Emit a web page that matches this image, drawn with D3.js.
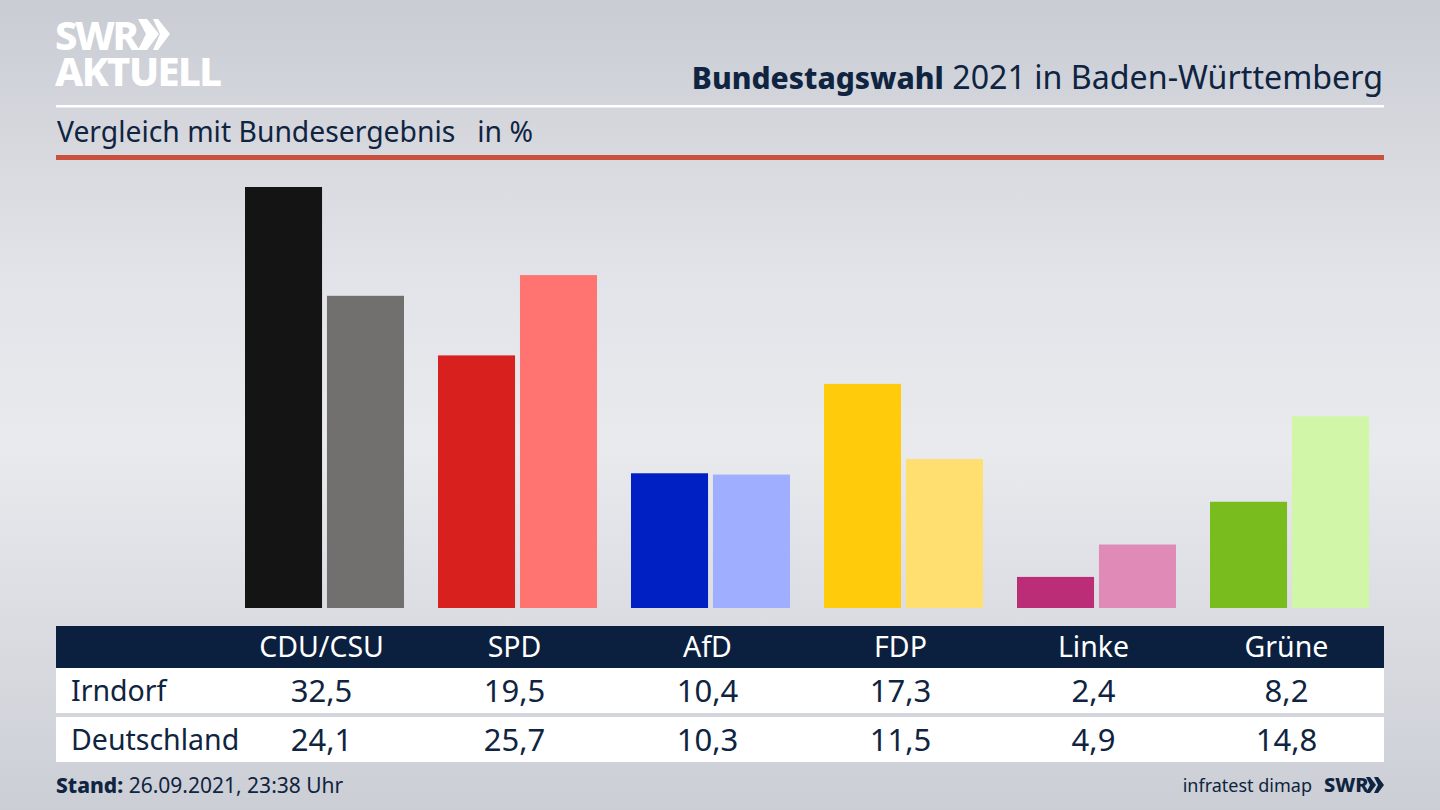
<!DOCTYPE html>
<html>
<head>
<meta charset="utf-8">
<script src="https://cdn.jsdelivr.net/npm/d3@7"></script>
<style>
html, body { margin: 0; padding: 0; background: #d8dae0; }
svg { display: block; }
text { font-family: "Noto Sans", "Open Sans", sans-serif; }
</style>
</head>
<body>
<div id="chart"></div>
<script>
// data
const parties = ["CDU/CSU", "SPD", "AfD", "FDP", "Linke", "Grüne"];
const regions = ["Irndorf", "Deutschland"];
const irndorf = [32.5, 19.5, 10.4, 17.3, 2.4, 8.2];
const deutschland = [24.1, 25.7, 10.3, 11.5, 4.9, 14.8];
const colorsIrndorf = ["#141414", "#d8201e", "#0020c4", "#ffcb0a", "#bc2d78", "#78bc1e"];
const colorsDeutschland = ["#72706e", "#ff7470", "#a0aeff", "#ffdf70", "#e08ab8", "#d2f6a8"];

const w = 1440, h = 810;
const navy = "#0b1f3f";
const ink = "#0f2440";

const svg = d3.select("#chart").append("svg").attr("width", w).attr("height", h);

// background
const grad = svg.append("defs").append("linearGradient")
	.attr("id", "bg").attr("x1", 0).attr("x2", 0).attr("y1", 0).attr("y2", 1);
grad.append("stop").attr("offset", "0%").attr("stop-color", "#c9ccd3");
grad.append("stop").attr("offset", "35%").attr("stop-color", "#e3e4e9");
grad.append("stop").attr("offset", "55%").attr("stop-color", "#e9eaee");
grad.append("stop").attr("offset", "100%").attr("stop-color", "#cbced5");
svg.append("rect").attr("width", w).attr("height", h).attr("fill", "url(#bg)");

// logo, one text element with two lines because the lines sit very tight
const logo = svg.append("g").attr("fill", "#fff");
const logoText = logo.append("text").attr("font-weight", 800);
logoText.append("tspan").attr("x", 55).attr("y", 50).attr("font-size", 40)
	.attr("letter-spacing", -2.5).text("SWR");
logoText.append("tspan").attr("x", 55).attr("y", 86).attr("font-size", 40)
	.attr("letter-spacing", -1.6).text("AKTUELL");
logo.append("path").attr("d", "M138 19h9l12 15-12 16h-9l8-16zM153 19h5l12 15-12 16h-5l7-16z");

// header
svg.append("text").attr("x", 1383).attr("y", 89).attr("text-anchor", "end")
	.attr("fill", ink)
	.call(t => {
		t.append("tspan").attr("font-size", 30).attr("font-weight", 800).text("Bundestagswahl");
		t.append("tspan").attr("font-size", 32.2).text(" 2021 in Baden-Württemberg");
	});
svg.append("rect").attr("x", 56).attr("y", 105).attr("width", 1328).attr("height", 2.5).attr("fill", "#fff");
svg.append("text").attr("x", 57).attr("y", 142).attr("font-size", 28.3).attr("fill", ink)
	.attr("xml:space", "preserve").text("Vergleich mit Bundesergebnis   in %");
svg.append("rect").attr("x", 56).attr("y", 155).attr("width", 1328).attr("height", 5).attr("fill", "#c9503c");

// scales
const x0 = d3.scaleBand().domain(parties).range([228.5, 1386.5]);
const x1 = d3.scaleBand().domain(regions).range([16.5, 175.5]).paddingInner(0.06);
const y = d3.scaleLinear().domain([0, 32.5]).range([608, 187]);

// bars
const groups = svg.selectAll("g.party").data(parties).enter().append("g")
	.attr("class", "party")
	.attr("transform", d => `translate(${x0(d)},0)`);

[irndorf, deutschland].forEach((values, s) => {
	const colors = s === 0 ? colorsIrndorf : colorsDeutschland;
	groups.append("rect")
		.attr("x", x1(regions[s]))
		.attr("width", x1.bandwidth())
		.attr("y", (d, i) => y(values[i]))
		.attr("height", (d, i) => y(0) - y(values[i]))
		.attr("fill", (d, i) => colors[i]);
});

// table
svg.append("rect").attr("x", 56).attr("y", 626).attr("width", 1328).attr("height", 42).attr("fill", navy);
svg.append("rect").attr("x", 56).attr("y", 668).attr("width", 1328).attr("height", 45).attr("fill", "#fff");
svg.append("rect").attr("x", 56).attr("y", 717).attr("width", 1328).attr("height", 45).attr("fill", "#fff");

const labelX = d => x0(d) + x0.bandwidth() / 2 - 3.5;

svg.selectAll("text.head").data(parties).enter().append("text")
	.attr("class", "head")
	.attr("x", labelX).attr("y", 657)
	.attr("text-anchor", "middle").attr("font-size", 28.5).attr("fill", "#fff")
	.text(d => d);

const fmt = v => v.toFixed(1).replace(".", ",");

[irndorf, deutschland].forEach((values, s) => {
	const rowY = s === 0 ? 701 : 750;
	svg.append("text").attr("x", 71).attr("y", rowY).attr("font-size", 28.5).attr("fill", ink)
		.text(regions[s]);
	svg.selectAll("text.val" + s).data(parties).enter().append("text")
		.attr("class", "val" + s)
		.attr("x", labelX).attr("y", rowY + 1)
		.attr("text-anchor", "middle").attr("font-size", 31).attr("fill", ink)
		.text((d, i) => fmt(values[i]));
});

// footer
svg.append("text").attr("x", 56).attr("y", 793).attr("font-size", 21).attr("fill", ink)
	.call(t => {
		t.append("tspan").attr("font-weight", 800).text("Stand:");
		t.append("tspan").text(" 26.09.2021, 23:38 Uhr");
	});
svg.append("text").attr("x", 1312).attr("y", 792).attr("text-anchor", "end")
	.attr("font-size", 18).attr("fill", ink).text("infratest dimap");
svg.append("text").attr("x", 1324).attr("y", 792).attr("font-size", 20).attr("font-weight", 800)
	.attr("fill", ink).text("SWR");
svg.append("path").attr("fill", ink)
	.attr("d", "M1366 777h4l6 8-6 8h-4l4-8zM1374 777h4l6 8-6 8h-4l4-8z");
</script>
</body>
</html>
